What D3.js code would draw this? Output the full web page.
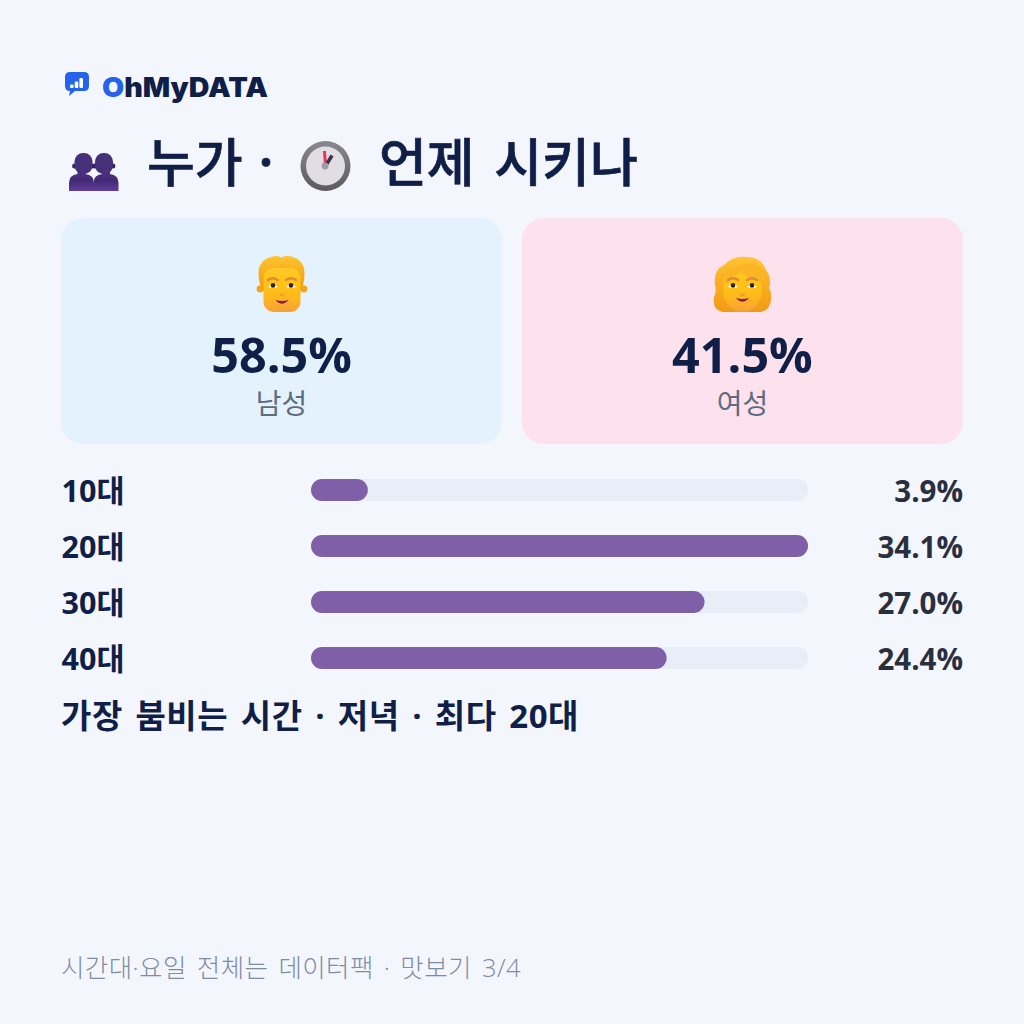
<!DOCTYPE html>
<html lang="ko"><head><meta charset="utf-8">
<script src="https://cdn.jsdelivr.net/npm/d3@7/dist/d3.min.js"></script>
<style>html,body{margin:0;padding:0;background:#f4f6fe}svg{display:block}
text{font-family:"Open Sans","Noto Sans CJK KR",sans-serif}</style></head><body>
<script>
const ageGroups = ["10대","20대","30대","40대"];
const ageShares = [3.9,34.1,27.0,24.4];
const genderLabels = ["남성","여성"];
const genderShares = [58.5,41.5];
const headline = "가장 붐비는 시간 · 저녁 · 최다 20대";
const footnote = "시간대·요일 전체는 데이터팩 · 맛보기 3/4";

const NAVY="#0f1f47", W=1024;
const svg=d3.select("body").append("svg").attr("width",W).attr("height",W);
svg.append("rect").attr("width",W).attr("height",W).attr("fill","#f4f6fe");
const defs=svg.append("defs");
function grad(id,stops,vert=true){
  const g=defs.append("linearGradient").attr("id",id).attr("x1",0).attr("y1",0).attr("x2",vert?0:1).attr("y2",vert?1:0);
  stops.forEach((c,i)=>g.append("stop").attr("offset",i/(stops.length-1)).attr("stop-color",c));
}
grad("skin",["#ffc928","#ffc414","#ffb81c","#f7a03a"]);
grad("hair",["#ffc530","#f9ad1e","#f29a18"]);
grad("people",["#4e3286","#432a74","#5f3d9a"]);
grad("rim",["#8a878e","#5c5a60"]);

// Brand mark
const brand=svg.append("g");
brand.append("path").attr("d","M70 72H84Q89 72 89 77V86Q89 91 84 91H75L69 96L70 91Q65 91 65 86V77Q65 72 70 72Z").attr("fill","#2563eb");
const logoBars=[3.5,6.5,10];
const logoY=d3.scaleLinear().domain([0,10]).range([88,78]);
brand.selectAll("rect.b").data(logoBars).join("rect").attr("x",(d,i)=>70+i*4.7).attr("width",3.6).attr("y",d=>logoY(d)).attr("height",d=>88-logoY(d)).attr("rx",1.2).attr("fill","#fff");
svg.append("text").attr("x",102).attr("y",97).attr("font-size",27).attr("font-weight",900).style("font-family","Inter,'DejaVu Sans',sans-serif").attr("textLength",166).attr("lengthAdjust","spacingAndGlyphs")
  .call(t=>{t.append("tspan").attr("fill","#2563eb").text("O");t.append("tspan").attr("fill",NAVY).text("hMyDATA");});

// Two standing figures, heads leaning slightly inward
function person(g,cx,lean){
  const hx=cx+lean;
  g.append("ellipse").attr("cx",hx-9.4).attr("cy",166).attr("rx",2).attr("ry",2.6).attr("fill","#38215f");
  g.append("ellipse").attr("cx",hx+9.4).attr("cy",166).attr("rx",2).attr("ry",2.6).attr("fill","#38215f");
  g.append("path").attr("d",`M${cx-12.5} 191V183Q${cx-12.5} 175 ${cx-4} 174V170H${cx+4}V174Q${cx+12.5} 175 ${cx+12.5} 183V191Z`).attr("fill","url(#people)");
  g.append("rect").attr("x",hx-9).attr("y",153).attr("width",18).attr("height",21).attr("rx",8.5).attr("fill","#47307a");
}
const ppl=svg.append("g");
person(ppl,81.5,2);person(ppl,106,-2);

const title=(x,s,sp)=>svg.append("text").attr("x",x).attr("y",182).attr("font-size",52).attr("font-weight",500).attr("fill",NAVY).attr("stroke",NAVY).attr("stroke-width",.7).attr("word-spacing",sp).style("font-family","'Noto Sans CJK KR',sans-serif").text(s);
title(147,"누가 ·",1);
title(379,"언제 시키나",5);

// Clock
const clock=svg.append("g");
clock.append("circle").attr("cx",325.5).attr("cy",166).attr("r",25).attr("fill","url(#rim)");
clock.append("circle").attr("cx",325.5).attr("cy",166).attr("r",19.5).attr("fill","#e0dde3");
clock.append("line").attr("x1",325.5).attr("y1",166).attr("x2",324.5).attr("y2",151).attr("stroke","#f12e57").attr("stroke-width",3);
clock.append("line").attr("x1",325.5).attr("y1",166).attr("x2",332).attr("y2",155.5).attr("stroke","#3b3147").attr("stroke-width",3.5);
clock.append("circle").attr("cx",325).attr("cy",166).attr("r",3.4).attr("fill","#a09ca6");

// Gender cards
const cardX=d3.scaleBand().domain(genderLabels).range([61,963]).paddingInner(19/442);
const cardFill={"남성":"#e3f2fd","여성":"#fde1ec"};
genderLabels.forEach((lab,i)=>{
  const x=cardX(lab),cx=x+cardX.bandwidth()/2;
  svg.append("rect").attr("x",x).attr("y",218).attr("width",cardX.bandwidth()).attr("height",226).attr("rx",22).attr("fill",cardFill[lab]);
  svg.append("text").attr("x",cx).attr("y",373).attr("text-anchor","middle").attr("font-size",48.5).attr("font-weight",700).attr("fill",NAVY).text(genderShares[i].toFixed(1)+"%");
  svg.append("text").attr("x",cx).attr("y",414).attr("text-anchor","middle").attr("font-size",28).attr("font-weight",400).attr("fill","#5f6b80").text(lab);
});

// Eyes, brows, nose and smile around the eye line at cy
function face(g,cx,cy,eye,mouthY){
  [-eye,eye].forEach(dx=>{
    g.append("path").attr("d",`M${cx+dx-5} ${cy-6}Q${cx+dx} ${cy-9.5} ${cx+dx+5} ${cy-6}`).attr("fill","none").attr("stroke","#e08a3e").attr("stroke-width",2.4).attr("stroke-linecap","round");
    g.append("path").attr("d",`M${cx+dx-5} ${cy+1}Q${cx+dx} ${cy-4.5} ${cx+dx+5} ${cy+1}Q${cx+dx} ${cy+3} ${cx+dx-5} ${cy+1}Z`).attr("fill","#fff");
    g.append("circle").attr("cx",cx+dx).attr("cy",cy-.6).attr("r",2.3).attr("fill","#2d2320");
  });
  g.append("path").attr("d",`M${cx-2} ${cy+8}Q${cx} ${cy+11} ${cx+2} ${cy+8}`).attr("fill","none").attr("stroke","#ef9a2e").attr("stroke-width",1.6).attr("stroke-linecap","round");
  g.append("path").attr("d",`M${cx-6.5} ${mouthY-2}Q${cx} ${mouthY} ${cx+6.5} ${mouthY-2}Q${cx} ${mouthY+5.5} ${cx-6.5} ${mouthY-2}Z`).attr("fill","#8a1a5a");
}
// Man
const man=svg.append("g");
man.append("circle").attr("cx",260).attr("cy",289).attr("r",3.4).attr("fill","#f5a21e");
man.append("circle").attr("cx",304).attr("cy",289).attr("r",3.4).attr("fill","#f5a21e");
man.append("path").attr("d","M262 291Q257 276 259 268Q262 259 271 257Q276 255 281 257.5Q287 255 293 257Q302 260 304 268Q306 278 301 291Z").attr("fill","url(#hair)");
man.append("rect").attr("x",263.5).attr("y",268).attr("width",37).attr("height",44).attr("rx",10).attr("fill","url(#skin)");
face(man,282,286,9,302);
// Woman
const wom=svg.append("g");
wom.append("path").attr("d","M722 312Q712 309 714 297Q717 291 715 285Q713 270 724 265Q733 255 748 257Q762 258 766 270Q772 278 769 288Q772 294 771 300Q770 310 761 312Z").attr("fill","url(#hair)");
wom.append("ellipse").attr("cx",742.5).attr("cy",290).attr("rx",19.5).attr("ry",22).attr("fill","url(#skin)");
wom.append("path").attr("d","M722 284Q724 268 737 266Q752 259 764 270Q768 280 762 282Q750 280 741 272Q734 276 727 284Z").attr("fill","#fbb524");
face(wom,742.5,286,9.5,300);

// Age-group bars
const barX=d3.scaleLinear().domain([0,d3.max(ageShares)]).range([0,497]);
const rowY=d3.scalePoint().domain(ageGroups).range([490,658]);
ageGroups.forEach((a,i)=>{
  const y=rowY(a);
  svg.append("text").attr("x",61.5).attr("y",y+12).attr("font-size",30.5).attr("font-weight",700).attr("fill",NAVY).text(a);
  svg.append("rect").attr("x",311).attr("y",y-11).attr("width",497).attr("height",22).attr("rx",11).attr("fill","#e8eef8");
  svg.append("rect").attr("x",311).attr("y",y-11).attr("width",barX(ageShares[i])).attr("height",22).attr("rx",11).attr("fill","#7e5fa8");
  svg.append("text").attr("x",963).attr("y",y+12).attr("text-anchor","end").attr("font-size",29.5).attr("font-weight",700).attr("fill","#2a2f3d").text(ageShares[i].toFixed(1)+"%");
});

svg.append("text").attr("x",61).attr("y",728).attr("font-size",33).attr("font-weight",700).attr("fill",NAVY).attr("letter-spacing",.55).attr("word-spacing",3.5).text(headline);
svg.append("text").attr("x",61).attr("y",977).attr("font-size",25.5).attr("font-weight",300).attr("fill","#7f8ca6").attr("letter-spacing",.4).attr("word-spacing",3).text(footnote);
</script></body></html>
